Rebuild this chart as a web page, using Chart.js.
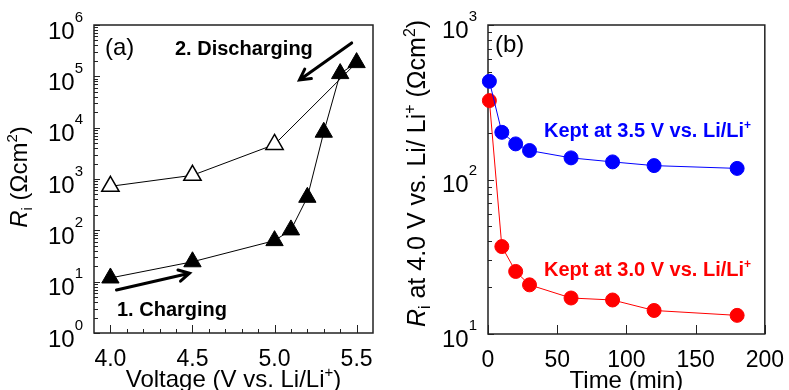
<!DOCTYPE html>
<html>
<head>
<meta charset="utf-8">
<script src="https://cdn.jsdelivr.net/npm/chart.js@4.4.1/dist/chart.umd.min.js"></script>
<style>
html, body { margin: 0; padding: 0; background: #fff; overflow: hidden; width: 789px; height: 390px; }
canvas { position: absolute; top: 0; }
#chartA { left: 0; }
#chartB { left: 400px; }
</style>
</head>
<body>
<canvas id="chartA" width="400" height="400"></canvas>
<canvas id="chartB" width="389" height="400"></canvas>
<script>
// panel (a): interface resistance vs voltage
const voltage = [4.0, 4.5, 5.0, 5.1, 5.2, 5.3, 5.4, 5.5];
const rCharging = [11.8, 24.4, 63, 102, 440, 8150, 113000, 185000];
const voltageDis = [4.0, 4.5, 5.0, 5.5];
const rDischarging = [720, 1180, 4700, 185000];
const voltageTicks = [4.0, 4.5, 5.0, 5.5];
const expTicksA = [0, 1, 2, 3, 4, 5, 6];

// panel (b): resistance at 4.0 V vs time kept
const timeMin = [1, 10, 20, 30, 60, 90, 120, 180];
const rKept35 = [432, 202, 170, 154, 138, 130, 123, 118];
const rKept30 = [324, 36.8, 25.4, 20.8, 17.1, 16.6, 14.2, 13.2];
const timeTicks = [0, 50, 100, 150, 200];
const expTicksB = [1, 2, 3];

const FONT = '"Liberation Sans", Arial, sans-serif';
const BLUE = '#0000ff';
const RED = '#ff0000';

function pts(xs, ys) {
    return xs.map((x, i) => ({ x: x, y: ys[i] }));
}

// draws a run of text pieces [text, font, dy, color]
function rich(ctx, parts, x, y, align) {
    let w = 0;
    parts.forEach(p => { ctx.font = p[1]; w += ctx.measureText(p[0]).width; });
    let cx = align === 'right' ? x - w : (align === 'center' ? x - w / 2 : x);
    ctx.textAlign = 'left';
    ctx.textBaseline = 'alphabetic';
    parts.forEach(p => {
        ctx.font = p[1];
        ctx.fillStyle = p[3] || '#000';
        ctx.fillText(p[0], cx, y + (p[2] || 0));
        cx += ctx.measureText(p[0]).width;
    });
}

function arrow(ctx, x1, y1, x2, y2) {
    const a = Math.atan2(y2 - y1, x2 - x1);
    const h = 12;
    ctx.save();
    ctx.strokeStyle = '#000';
    ctx.lineWidth = 3;
    ctx.lineCap = 'round';
    ctx.beginPath();
    ctx.moveTo(x1, y1);
    ctx.lineTo(x2, y2);
    ctx.moveTo(x2 - h * Math.cos(a - 0.5), y2 - h * Math.sin(a - 0.5));
    ctx.lineTo(x2, y2);
    ctx.lineTo(x2 - h * Math.cos(a + 0.5), y2 - h * Math.sin(a + 0.5));
    ctx.stroke();
    ctx.restore();
}

// frame, inward ticks and power-of-ten labels
function framePlugin(cfg) {
    return {
        id: 'frame',
        beforeDatasetsDraw(chart) {
            const { ctx, chartArea: a } = chart;
            const xs = chart.scales.x, ys = chart.scales.y;
            ctx.save();
            ctx.strokeStyle = '#222';
            ctx.lineWidth = 1;
            ctx.beginPath();
            // y ticks (log): major decades + minor 2..9
            for (let e = Math.round(Math.log10(ys.min)); e < Math.round(Math.log10(ys.max)) + 1; e++) {
                const d = Math.pow(10, e);
                let py = Math.round(ys.getPixelForValue(d)) + 0.5;
                ctx.moveTo(a.left, py); ctx.lineTo(a.left + cfg.yMajor, py);
                for (let m = 2; m <= 9 && m * d < ys.max; m++) {
                    py = Math.round(ys.getPixelForValue(m * d)) + 0.5;
                    ctx.moveTo(a.left, py); ctx.lineTo(a.left + cfg.yMinor, py);
                }
            }
            // x ticks
            xs.ticks.forEach(t => {
                const px = Math.round(xs.getPixelForValue(t.value)) + 0.5;
                ctx.moveTo(px, a.bottom); ctx.lineTo(px, a.bottom - cfg.xMajor);
            });
            if (cfg.xMinorStep) {
                for (let v = xs.min + cfg.xMinorStep; v < xs.max - 1e-6; v += cfg.xMinorStep) {
                    const px = Math.round(xs.getPixelForValue(v)) + 0.5;
                    ctx.moveTo(px, a.bottom); ctx.lineTo(px, a.bottom - cfg.xMinor);
                }
            }
            ctx.stroke();
            ctx.lineWidth = 1.5;
            ctx.strokeRect(a.left, a.top, a.right - a.left, a.bottom - a.top);
            ctx.restore();
        },
        afterDraw(chart) {
            const { ctx, chartArea: a } = chart;
            const ys = chart.scales.y;
            ctx.save();
            cfg.exps.forEach(e => {
                const py = ys.getPixelForValue(Math.pow(10, e)) + cfg.labelDy;
                rich(ctx, [['10', '24px ' + FONT, 0], [String(e), '15px ' + FONT, -17]],
                    a.left - 11, py + 8.5, 'right');
            });
            // axis titles
            rich(ctx, cfg.xTitle, (a.left + a.right) / 2, a.bottom + 54, 'center');
            ctx.translate(cfg.yTitleX, (a.top + a.bottom) / 2 + cfg.yTitleDy);
            ctx.rotate(-Math.PI / 2);
            rich(ctx, cfg.yTitle, 0, 0, 'center');
            ctx.restore();
            cfg.extra(chart);
        }
    };
}

const sub = (t, s) => [t, (s || 15) + 'px ' + FONT, 5];
const sup = (t, s) => [t, (s || 15) + 'px ' + FONT, -10];
const reg = (t, s) => [t, (s || 24) + 'px ' + FONT, 0];

const chartA = new Chart(document.getElementById('chartA'), {
    type: 'line',
    data: {
        datasets: [{
            data: pts(voltage, rCharging),
            borderColor: '#000',
            borderWidth: 1,
            pointStyle: 'triangle',
            pointRadius: 10,
            pointBackgroundColor: '#000',
            pointBorderColor: '#000',
            pointBorderWidth: 1,
            clip: false
        }, {
            data: pts(voltageDis, rDischarging),
            borderColor: '#000',
            borderWidth: 1,
            pointStyle: 'triangle',
            pointRadius: [10, 10, 10, 0],
            pointBackgroundColor: '#fff',
            pointBorderColor: '#000',
            pointBorderWidth: 1.5,
            clip: false
        }]
    },
    options: {
        responsive: false,
        animation: false,
        events: [],
        layout: { padding: { top: 25, right: 27, left: 0, bottom: 0 } },
        plugins: { legend: { display: false }, tooltip: { enabled: false } },
        scales: {
            x: {
                type: 'linear',
                min: 3.9,
                max: 5.6,
                grid: { display: false },
                border: { display: false },
                afterBuildTicks: s => { s.ticks = voltageTicks.map(v => ({ value: v })); },
                afterFit: s => { s.height = 67; },
                ticks: {
                    color: '#000',
                    font: { family: FONT, size: 23 },
                    padding: 5,
                    maxRotation: 0,
                    autoSkip: false,
                    callback: v => v.toFixed(1)
                }
            },
            y: {
                type: 'logarithmic',
                min: 1,
                max: 1e6,
                grid: { display: false },
                border: { display: false },
                ticks: { display: false },
                afterFit: s => { s.width = 94; }
            }
        }
    },
    plugins: [framePlugin({
        yMajor: 6, yMinor: 4, xMajor: 8, xMinor: 4, xMinorStep: 0.1,
        exps: expTicksA, labelDy: 5,
        xTitle: [reg('Voltage (V vs. Li/Li'), sup('+'), reg(')')],
        yTitle: [['R', 'italic 24px ' + FONT, 0], sub('i'), reg(' (\u03A9cm'), sup('2'), reg(')')],
        yTitleX: 27, yTitleDy: -2,
        extra(chart) {
            const { ctx, chartArea: a, scales: { x, y } } = chart;
            ctx.save();
            rich(ctx, [reg('(a)')], a.left + 11, a.top + 30, 'left');
            rich(ctx, [['2. Discharging', 'bold 20px ' + FONT, 0]], a.left + 81, a.top + 30, 'left');
            rich(ctx, [['1. Charging', 'bold 20px ' + FONT, 0]], a.left + 23, a.bottom - 17, 'left');
            arrow(ctx, x.getPixelForValue(4.037), y.getPixelForValue(6.9),
                x.getPixelForValue(4.482), y.getPixelForValue(14.6));
            arrow(ctx, x.getPixelForValue(5.47), y.getPixelForValue(4.47e5),
                x.getPixelForValue(5.152), y.getPixelForValue(8.5e4));
            ctx.restore();
        }
    })]
});

const chartB = new Chart(document.getElementById('chartB'), {
    type: 'line',
    data: {
        datasets: [{
            data: pts(timeMin, rKept35),
            borderColor: BLUE,
            borderWidth: 1,
            pointRadius: 7,
            pointBackgroundColor: BLUE,
            pointBorderColor: BLUE,
            clip: false
        }, {
            data: pts(timeMin, rKept30),
            borderColor: RED,
            borderWidth: 1,
            pointRadius: 7,
            pointBackgroundColor: RED,
            pointBorderColor: RED,
            clip: false
        }]
    },
    options: {
        responsive: false,
        animation: false,
        events: [],
        layout: { padding: { top: 25, right: 21, left: 0, bottom: 0 } },
        plugins: { legend: { display: false }, tooltip: { enabled: false } },
        scales: {
            x: {
                type: 'linear',
                min: 0,
                max: 200,
                grid: { display: false },
                border: { display: false },
                afterBuildTicks: s => { s.ticks = timeTicks.map(v => ({ value: v })); },
                afterFit: s => { s.height = 66; },
                ticks: {
                    color: '#000',
                    font: { family: FONT, size: 23 },
                    padding: 5,
                    maxRotation: 0,
                    autoSkip: false
                }
            },
            y: {
                type: 'logarithmic',
                min: 10,
                max: 1000,
                grid: { display: false },
                border: { display: false },
                ticks: { display: false },
                afterFit: s => { s.width = 88; }
            }
        }
    },
    plugins: [framePlugin({
        yMajor: 6, yMinor: 4, xMajor: 9, xMinor: 0, xMinorStep: 0,
        exps: expTicksB, labelDy: 4,
        xTitle: [reg('Time (min)')],
        yTitle: [['R', 'italic 25px ' + FONT, 0], sub('i', 16), reg(' at 4.0 V vs. Li/ Li', 25), sup('+', 16),
            reg(' (\u03A9cm', 25), sup('2', 16), reg(')', 25)],
        yTitleX: 25, yTitleDy: -6,
        extra(chart) {
            const { ctx, chartArea: a } = chart;
            ctx.save();
            rich(ctx, [reg('(b)')], a.left + 7, a.top + 27, 'left');
            rich(ctx, [['Kept at 3.5 V vs. Li/Li', 'bold 20px ' + FONT, 0, BLUE], ['+', 'bold 12px ' + FONT, -8, BLUE]],
                a.left + 56, a.top + 112, 'left');
            rich(ctx, [['Kept at 3.0 V vs. Li/Li', 'bold 20px ' + FONT, 0, RED], ['+', 'bold 12px ' + FONT, -8, RED]],
                a.left + 56, a.top + 251, 'left');
            ctx.restore();
        }
    })]
});
</script>
</body>
</html>
